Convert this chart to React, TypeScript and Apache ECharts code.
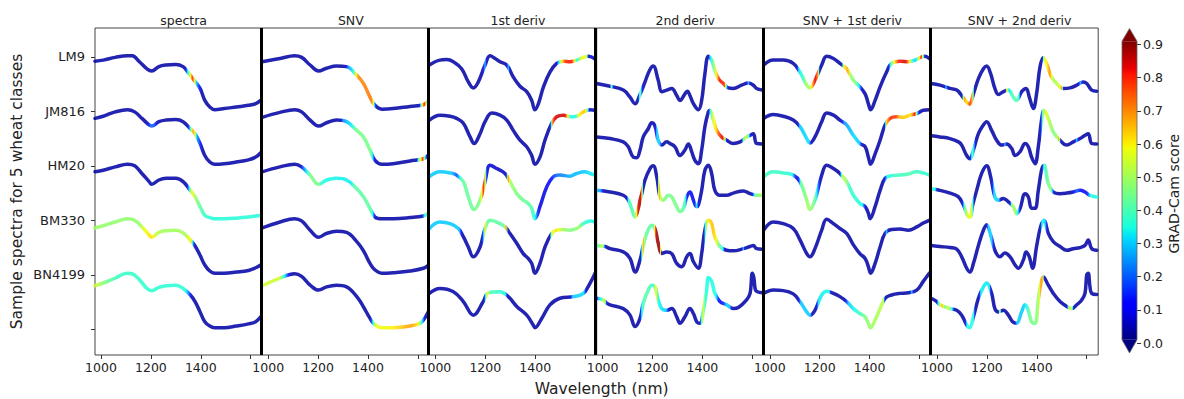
import React, { useEffect, useRef } from "react";
import * as echarts from "echarts";

// ---------- labels ----------
const PANELS = ["spectra", "SNV", "1st deriv", "2nd deriv", "SNV + 1st deriv", "SNV + 2nd deriv"];
const CLASSES = ["LM9", "JM816", "HM20", "BM330", "BN4199"];
const X_TICKS = [1000, 1200, 1400, 1600];
const X_LABELS = [1000, 1200, 1400];
const Y_TICKS = [0, -1, -2, -3, -4, -5];
const Y_LABELS = [0, -1, -2, -3, -4];
const SEPARATOR_WL = 1642;
const CB_MIN = 0.01;
const CB_MAX = 0.91;
const BASE_SCORE = 0.04;

type P = [number, number][];

// ---------- spectra ----------
const spectra_LM9: P = [[976,89],[1009,91],[1057,96],[1106,99],[1125,99],[1154,88],[1184,75],[1203,71],[1232,79],[1261,82],[1300,83],[1329,79],[1348,69],[1368,57],[1397,39],[1416,17],[1436,5],[1455,0],[1494,2],[1542,5],[1591,8],[1620,11],[1640,17]];
const spectra_LM9_s: P = [[1338,0.04],[1348,0.35],[1359,0.6],[1367,0.8],[1375,0.6],[1382,0.3],[1392,0.15],[1402,0.04]];
const spectra_JM816: P = [[976,84],[1009,88],[1057,96],[1106,100],[1135,96],[1164,84],[1193,72],[1203,70],[1232,78],[1261,81],[1300,82],[1329,78],[1358,65],[1377,56],[1397,38],[1416,16],[1436,4],[1455,0],[1494,1],[1542,4],[1591,8],[1620,13],[1640,21]];
const spectra_JM816_s: P = [[1184,0.04],[1198,0.2],[1213,0.2],[1227,0.04],[1348,0.04],[1358,0.35],[1368,0.7],[1375,0.6],[1385,0.25],[1397,0.15],[1406,0.04]];
const spectra_HM20: P = [[976,86],[1009,89],[1057,95],[1106,100],[1135,97],[1164,83],[1193,68],[1203,63],[1232,71],[1261,74],[1300,74],[1329,68],[1358,52],[1377,40],[1397,22],[1416,6],[1436,2],[1455,0],[1494,0],[1542,1],[1591,3],[1620,5],[1640,6]];
const spectra_HM20_s: P = [[1343,0.04],[1353,0.3],[1363,0.6],[1370,0.55],[1387,0.45],[1412,0.38],[1436,0.36],[1640,0.36]];
const spectra_BM330: P = [[976,83],[1009,87],[1057,94],[1106,100],[1135,97],[1164,85],[1193,70],[1203,66],[1232,75],[1261,78],[1300,79],[1329,74],[1358,61],[1377,50],[1397,33],[1416,15],[1436,4],[1455,0],[1494,0],[1542,2],[1591,5],[1620,10],[1640,15]];
const spectra_BM330_s: P = [[976,0.5],[1009,0.48],[1154,0.48],[1174,0.58],[1203,0.62],[1217,0.55],[1242,0.5],[1339,0.5],[1360,0.62],[1368,0.3],[1375,0.04]];
const spectra_BN4199: P = [[976,77],[1009,82],[1057,91],[1106,100],[1125,99],[1154,88],[1184,72],[1203,68],[1232,74],[1261,77],[1300,78],[1329,72],[1358,60],[1377,48],[1397,29],[1416,11],[1436,3],[1455,0],[1494,0],[1542,3],[1591,7],[1620,11],[1640,20]];
const spectra_BN4199_s: P = [[976,0.55],[1019,0.45],[1067,0.38],[1339,0.36],[1353,0.2],[1363,0.04]];

// ---------- SNV ----------
const snv_LM9: P = [[976,88],[1047,94],[1106,99],[1134,96],[1168,82],[1202,71],[1234,76],[1274,80],[1314,79],[1355,63],[1382,48],[1408,23],[1428,8],[1455,1],[1501,2],[1568,6],[1622,9],[1640,16]];
const snv_LM9_s: P = [[1310,0.04],[1321,0.25],[1341,0.35],[1350,0.55],[1360,0.7],[1414,0.72],[1421,0.6],[1426,0.3],[1433,0.04],[1605,0.04],[1615,0.5],[1625,0.85],[1632,0.6],[1640,0.2]];
const snv_JM816: P = [[976,86],[1047,95],[1106,100],[1134,96],[1168,81],[1202,70],[1234,76],[1274,81],[1314,78],[1355,62],[1382,50],[1408,26],[1428,7],[1455,0],[1501,1],[1568,6],[1622,10],[1640,16]];
const snv_JM816_s: P = [[1290,0.04],[1301,0.25],[1340,0.35],[1350,0.45],[1410,0.45],[1419,0.32],[1428,0.04],[1595,0.04],[1602,0.4],[1612,0.6],[1620,0.85],[1627,0.4],[1635,0.1]];
const snv_HM20: P = [[976,86],[1047,95],[1106,100],[1134,95],[1168,80],[1202,63],[1234,71],[1274,74],[1314,71],[1355,55],[1382,40],[1408,19],[1428,3],[1455,0],[1501,0],[1568,2],[1622,5],[1640,9]];
const snv_HM20_s: P = [[1128,0.04],[1140,0.2],[1156,0.35],[1168,0.45],[1205,0.45],[1215,0.35],[1335,0.33],[1345,0.42],[1412,0.42],[1420,0.32],[1428,0.04],[1615,0.04],[1628,0.38],[1640,0.42]];
const snv_BM330: P = [[976,83],[1047,94],[1106,100],[1134,96],[1168,79],[1202,66],[1234,73],[1274,77],[1314,75],[1355,58],[1382,41],[1408,18],[1428,6],[1455,0],[1501,1],[1568,4],[1622,9],[1640,14]];
const snv_BM330_s: P = [];
const snv_BN4199: P = [[976,77],[1047,91],[1106,99],[1134,94],[1168,78],[1202,69],[1234,75],[1274,78],[1314,75],[1355,57],[1382,38],[1408,17],[1428,5],[1455,0],[1501,0],[1568,3],[1608,8],[1622,14],[1640,28]];
const snv_BN4199_s: P = [[976,0.55],[1045,0.55],[1062,0.38],[1076,0.2],[1090,0.04],[1410,0.04],[1418,0.3],[1430,0.58],[1500,0.6],[1550,0.66],[1575,0.68],[1600,0.6],[1610,0.45],[1618,0.3],[1630,0.04]];

// ---------- 1st derivative ----------
const d1_LM9: P = [[976,82],[1018,91],[1045,92],[1072,88],[1105,75],[1132,51],[1152,40],[1172,51],[1199,82],[1219,99],[1239,94],[1259,88],[1286,82],[1312,60],[1339,43],[1366,33],[1386,17],[1399,0],[1413,11],[1433,42],[1459,69],[1486,85],[1513,89],[1539,88],[1566,91],[1593,96],[1613,98],[1640,93]];
const d1_LM9_s: P = [[1191,0.04],[1199,0.3],[1206,0.04],[1285,0.04],[1292,0.3],[1299,0.04],[1485,0.04],[1493,0.3],[1506,0.6],[1522,0.8],[1546,0.82],[1553,0.7],[1566,0.35],[1580,0.5],[1590,0.6],[1606,0.55],[1613,0.06]];
const d1_JM816: P = [[976,81],[1018,90],[1059,88],[1085,84],[1112,75],[1139,50],[1155,38],[1179,56],[1199,78],[1226,94],[1259,90],[1286,81],[1312,62],[1339,44],[1366,32],[1386,16],[1399,0],[1419,13],[1439,44],[1466,75],[1486,87],[1513,90],[1539,87],[1566,88],[1593,96],[1620,100],[1640,99]];
const d1_JM816_s: P = [[1460,0.04],[1470,0.75],[1480,0.85],[1520,0.85],[1530,0.6],[1540,0.35],[1562,0.35],[1575,0.6],[1600,0.65],[1610,0.4],[1618,0.06]];
const d1_HM20: P = [[976,77],[1018,86],[1059,84],[1085,80],[1112,68],[1132,40],[1155,17],[1179,34],[1199,68],[1219,98],[1246,92],[1279,83],[1299,68],[1326,46],[1352,34],[1372,28],[1386,19],[1399,0],[1419,22],[1446,58],[1473,77],[1499,80],[1539,78],[1566,83],[1599,86],[1620,83],[1640,80]];
const d1_HM20_s: P = [[976,0.3],[1065,0.3],[1085,0.18],[1105,0.42],[1175,0.45],[1186,0.58],[1192,0.82],[1199,0.6],[1206,0.08],[1284,0.06],[1291,0.75],[1299,0.5],[1330,0.45],[1380,0.42],[1399,0.35],[1415,0.08],[1460,0.1],[1480,0.2],[1540,0.28],[1600,0.3],[1640,0.35]];
const d1_BM330: P = [[976,82],[1018,94],[1059,91],[1092,82],[1112,67],[1132,48],[1152,30],[1179,48],[1199,82],[1219,97],[1259,91],[1279,85],[1299,73],[1326,55],[1352,36],[1372,27],[1386,18],[1399,0],[1419,18],[1439,48],[1466,73],[1486,79],[1513,80],[1539,79],[1566,82],[1593,91],[1620,96],[1640,94]];
const d1_BM330_s: P = [[976,0.3],[1095,0.3],[1108,0.04],[1186,0.04],[1193,0.3],[1200,0.62],[1208,0.42],[1276,0.42],[1284,0.78],[1290,0.1],[1296,0.04],[1458,0.04],[1466,0.55],[1485,0.62],[1510,0.5],[1550,0.45],[1575,0.5],[1590,0.38],[1640,0.33]];
const d1_BN4199: P = [[976,63],[1018,72],[1072,66],[1112,48],[1152,23],[1192,48],[1212,64],[1259,66],[1292,57],[1326,39],[1366,23],[1392,5],[1399,0],[1426,17],[1459,42],[1499,54],[1553,57],[1593,63],[1620,82],[1640,100]];
const d1_BN4199_s: P = [[1195,0.04],[1202,0.45],[1210,0.62],[1218,0.4],[1280,0.35],[1290,0.04],[1540,0.04],[1550,0.3],[1595,0.32],[1605,0.04]];

// ---------- 2nd derivative ----------
const d2_LM9: P = [[976,48],[1030,43],[1083,36],[1110,23],[1130,11],[1150,28],[1170,51],[1188,72],[1203,80],[1223,54],[1237,33],[1257,36],[1277,39],[1297,26],[1310,17],[1330,29],[1340,34],[1350,26],[1364,11],[1384,0],[1397,17],[1410,66],[1424,98],[1437,91],[1450,72],[1464,57],[1484,48],[1504,40],[1524,39],[1557,45],[1584,49],[1604,45],[1617,39],[1640,36]];
const d2_LM9_s: P = [[1028,0.04],[1036,0.45],[1044,0.04],[1142,0.04],[1150,0.5],[1157,0.2],[1163,0.04],[1424,0.04],[1430,0.3],[1444,0.45],[1457,0.6],[1468,0.82],[1488,0.8],[1497,0.3],[1504,0.04],[1577,0.04],[1584,0.3],[1591,0.04]];
const d2_JM816: P = [[976,50],[1030,47],[1083,41],[1103,32],[1123,13],[1137,12],[1150,26],[1163,50],[1183,65],[1197,76],[1210,70],[1223,44],[1237,35],[1257,41],[1270,38],[1290,32],[1310,16],[1330,26],[1344,37],[1357,23],[1370,7],[1384,1],[1397,26],[1410,69],[1424,96],[1430,99],[1444,81],[1457,62],[1477,50],[1497,44],[1524,38],[1551,41],[1577,50],[1591,53],[1604,56],[1617,38],[1640,37]];
const d2_JM816_s: P = [[1210,0.04],[1217,0.3],[1230,0.3],[1237,0.04],[1424,0.04],[1431,0.35],[1441,0.55],[1455,0.62],[1464,0.75],[1480,0.85],[1490,0.6],[1497,0.04],[1557,0.04],[1564,0.45],[1577,0.55],[1586,0.35],[1594,0.04]];
const d2_HM20: P = [[976,52],[1030,49],[1083,43],[1103,34],[1116,19],[1130,3],[1143,19],[1150,34],[1157,46],[1170,71],[1190,92],[1203,97],[1217,77],[1230,40],[1243,34],[1263,43],[1277,40],[1297,22],[1310,13],[1324,19],[1337,40],[1350,49],[1364,34],[1377,22],[1384,25],[1397,52],[1410,89],[1424,98],[1437,83],[1450,52],[1470,43],[1497,43],[1524,47],[1564,51],[1591,46],[1617,43],[1640,43]];
const d2_HM20_s: P = [[976,0.3],[992,0.25],[1005,0.04],[1096,0.04],[1104,0.38],[1125,0.42],[1135,0.55],[1142,0.85],[1152,0.88],[1158,0.6],[1164,0.04],[1220,0.04],[1226,0.7],[1236,0.5],[1250,0.45],[1310,0.45],[1330,0.4],[1340,0.1],[1368,0.1],[1377,0.35],[1386,0.04],[1598,0.04],[1612,0.45],[1640,0.5]];
const d2_BM330: P = [[976,51],[1010,49],[1030,45],[1083,39],[1110,27],[1130,2],[1150,24],[1163,51],[1177,73],[1197,88],[1210,82],[1223,55],[1237,36],[1257,39],[1277,36],[1297,18],[1317,12],[1337,30],[1350,36],[1364,21],[1384,9],[1397,36],[1410,79],[1424,97],[1437,91],[1450,67],[1470,49],[1497,42],[1524,41],[1564,45],[1591,49],[1604,51],[1617,45],[1640,44]];
const d2_BM330_s: P = [[976,0.35],[990,0.5],[1000,0.55],[1006,0.3],[1012,0.04],[1152,0.04],[1157,0.35],[1163,0.7],[1170,0.42],[1205,0.42],[1214,0.88],[1230,0.9],[1236,0.04],[1405,0.04],[1411,0.35],[1420,0.6],[1440,0.65],[1455,0.6],[1465,0.45],[1482,0.35],[1490,0.04],[1558,0.04],[1564,0.3],[1570,0.04]];
const d2_BN4199: P = [[976,54],[1003,51],[1016,45],[1030,42],[1083,35],[1110,23],[1130,2],[1150,17],[1163,45],[1183,69],[1197,78],[1210,75],[1223,51],[1237,35],[1257,32],[1277,35],[1297,20],[1310,8],[1330,20],[1350,35],[1364,26],[1377,11],[1390,8],[1404,32],[1417,69],[1424,92],[1437,85],[1450,63],[1470,48],[1497,42],[1524,35],[1544,37],[1577,51],[1591,63],[1600,100],[1606,92],[1612,70],[1620,66],[1640,64]];
const d2_BN4199_s: P = [[976,0.04],[984,0.3],[994,0.35],[1008,0.62],[1016,0.1],[1023,0.04],[1150,0.04],[1157,0.35],[1170,0.42],[1205,0.38],[1215,0.65],[1221,0.35],[1255,0.3],[1266,0.04],[1390,0.04],[1397,0.45],[1405,0.55],[1412,0.35],[1455,0.35],[1465,0.1],[1485,0.15],[1495,0.3],[1510,0.3],[1518,0.04]];

// ---------- SNV + 1st derivative ----------
const s1_LM9: P = [[976,82],[1014,91],[1054,91],[1094,85],[1121,69],[1148,45],[1161,40],[1181,54],[1208,82],[1228,98],[1255,94],[1281,85],[1308,75],[1335,54],[1361,42],[1382,29],[1395,11],[1404,0],[1422,17],[1442,42],[1468,69],[1488,85],[1522,89],[1555,88],[1582,91],[1609,97],[1622,98],[1639,94]];
const s1_LM9_s: P = [[1108,0.04],[1116,0.32],[1134,0.38],[1145,0.5],[1160,0.5],[1170,0.65],[1182,0.85],[1193,0.7],[1200,0.04],[1288,0.04],[1296,0.6],[1314,0.68],[1322,0.5],[1345,0.45],[1360,0.3],[1370,0.04],[1475,0.04],[1483,0.35],[1495,0.55],[1515,0.8],[1545,0.85],[1560,0.6],[1572,0.35],[1585,0.3],[1598,0.55],[1607,0.85],[1615,0.4],[1622,0.04]];
const s1_JM816: P = [[976,84],[1014,91],[1054,88],[1094,81],[1121,69],[1148,47],[1161,39],[1181,50],[1208,78],[1228,94],[1255,90],[1281,81],[1308,72],[1335,53],[1361,38],[1382,32],[1395,13],[1404,0],[1422,19],[1442,44],[1462,72],[1482,84],[1508,87],[1535,86],[1562,90],[1589,93],[1615,99],[1639,100]];
const s1_JM816_s: P = [[1112,0.04],[1120,0.3],[1158,0.32],[1166,0.04],[1285,0.04],[1298,0.25],[1340,0.32],[1360,0.3],[1370,0.04],[1460,0.04],[1468,0.65],[1482,0.8],[1505,0.78],[1520,0.65],[1565,0.62],[1575,0.75],[1582,0.85],[1590,0.35],[1600,0.04]];
const s1_HM20: P = [[976,77],[1014,86],[1054,84],[1094,80],[1121,68],[1148,34],[1161,17],[1181,34],[1208,80],[1228,98],[1255,92],[1281,83],[1308,68],[1335,43],[1361,28],[1382,22],[1395,10],[1402,0],[1422,22],[1442,52],[1462,74],[1488,79],[1522,80],[1555,82],[1589,86],[1615,84],[1639,80]];
const s1_HM20_s: P = [[976,0.38],[1050,0.38],[1090,0.35],[1105,0.1],[1115,0.1],[1124,0.42],[1155,0.5],[1178,0.45],[1190,0.3],[1203,0.04],[1280,0.04],[1290,0.52],[1305,0.5],[1318,0.38],[1370,0.35],[1385,0.04],[1458,0.04],[1470,0.35],[1500,0.38],[1560,0.4],[1600,0.38],[1639,0.36]];
const s1_BM330: P = [[976,79],[1014,94],[1054,91],[1094,82],[1121,61],[1148,36],[1161,30],[1181,45],[1208,79],[1228,99],[1255,91],[1281,82],[1308,73],[1335,52],[1361,36],[1382,27],[1395,12],[1404,0],[1422,18],[1442,48],[1462,73],[1488,80],[1522,81],[1555,79],[1589,85],[1615,92],[1639,97]];
const s1_BM330_s: P = [[1460,0.04],[1468,0.3],[1476,0.04]];
const s1_BN4199: P = [[976,63],[1014,69],[1054,68],[1094,62],[1121,48],[1148,29],[1161,23],[1181,32],[1208,60],[1228,67],[1255,63],[1281,57],[1308,48],[1335,35],[1361,26],[1382,20],[1395,8],[1404,0],[1422,14],[1442,35],[1462,54],[1488,60],[1522,63],[1555,64],[1589,69],[1615,85],[1639,100]];
const s1_BN4199_s: P = [[1114,0.04],[1124,0.3],[1162,0.3],[1170,0.04],[1186,0.04],[1195,0.33],[1238,0.35],[1246,0.04],[1300,0.04],[1315,0.3],[1360,0.38],[1390,0.48],[1420,0.5],[1445,0.52],[1455,0.55],[1462,0.04],[1560,0.04],[1569,0.3],[1577,0.04]];

// ---------- SNV + 2nd derivative ----------
const s2_LM9: P = [[976,48],[1012,45],[1052,39],[1079,36],[1099,26],[1119,14],[1130,10],[1146,29],[1166,57],[1186,75],[1199,80],[1215,66],[1232,39],[1246,28],[1266,33],[1286,36],[1306,23],[1319,17],[1339,33],[1357,39],[1370,23],[1386,2],[1399,29],[1413,79],[1426,96],[1439,85],[1459,60],[1480,48],[1506,39],[1533,40],[1560,45],[1586,51],[1600,48],[1620,36],[1640,34]];
const s2_LM9_s: P = [[1030,0.04],[1036,0.3],[1044,0.04],[1100,0.04],[1108,0.7],[1120,0.6],[1132,0.8],[1142,0.65],[1150,0.04],[1274,0.04],[1280,0.7],[1287,0.3],[1300,0.4],[1328,0.4],[1336,0.04],[1422,0.04],[1428,0.55],[1440,0.6],[1452,0.7],[1466,0.5],[1490,0.55],[1500,0.7],[1507,0.04],[1566,0.04],[1575,0.3],[1584,0.04]];
const s2_JM816: P = [[976,52],[1012,50],[1052,47],[1086,41],[1099,35],[1119,16],[1132,10],[1146,26],[1166,56],[1186,72],[1199,78],[1219,62],[1239,44],[1259,35],[1279,37],[1299,29],[1313,16],[1333,23],[1353,38],[1366,32],[1379,13],[1393,1],[1406,32],[1419,81],[1429,99],[1446,84],[1466,59],[1493,44],[1520,35],[1546,41],[1573,47],[1593,53],[1606,56],[1620,38],[1640,37]];
const s2_JM816_s: P = [[1132,0.04],[1140,0.4],[1148,0.3],[1155,0.04],[1265,0.04],[1272,0.3],[1279,0.04],[1415,0.04],[1424,0.45],[1436,0.58],[1450,0.52],[1470,0.45],[1482,0.5],[1488,0.7],[1496,0.04],[1552,0.04],[1560,0.3],[1568,0.04]];
const s2_HM20: P = [[976,55],[1012,52],[1052,47],[1086,40],[1106,25],[1122,6],[1132,3],[1143,25],[1159,52],[1179,83],[1199,97],[1215,77],[1232,40],[1246,34],[1266,37],[1286,31],[1306,22],[1319,9],[1333,19],[1353,46],[1366,40],[1379,19],[1393,19],[1406,52],[1419,89],[1429,98],[1446,65],[1466,49],[1493,46],[1520,47],[1546,49],[1573,52],[1593,49],[1613,43],[1640,40]];
const s2_HM20_s: P = [[976,0.4],[992,0.35],[1002,0.04],[1100,0.04],[1110,0.4],[1125,0.6],[1136,0.58],[1143,0.4],[1150,0.04],[1220,0.04],[1228,0.32],[1248,0.3],[1256,0.04],[1292,0.04],[1300,0.5],[1316,0.48],[1326,0.3],[1334,0.04],[1420,0.04],[1428,0.38],[1442,0.42],[1455,0.5],[1462,0.3],[1470,0.04],[1540,0.04],[1560,0.2],[1580,0.1],[1600,0.1],[1615,0.35],[1640,0.35]];
const s2_BM330: P = [[976,51],[1012,49],[1052,47],[1079,44],[1099,30],[1119,9],[1132,2],[1146,18],[1166,51],[1186,79],[1199,89],[1215,70],[1232,42],[1252,30],[1272,37],[1293,30],[1313,15],[1326,9],[1346,24],[1357,39],[1370,30],[1383,9],[1399,49],[1415,85],[1429,97],[1446,73],[1466,58],[1493,49],[1520,42],[1546,45],[1573,47],[1593,51],[1606,61],[1620,45],[1640,42]];
const s2_BM330_s: P = [[1198,0.04],[1205,0.3],[1220,0.3],[1228,0.04],[1414,0.04],[1420,0.35],[1434,0.3],[1442,0.04]];
const s2_BN4199: P = [[976,54],[999,48],[1012,42],[1052,35],[1079,32],[1099,23],[1119,5],[1130,0],[1146,20],[1166,54],[1186,75],[1199,82],[1219,63],[1232,35],[1246,29],[1266,32],[1286,23],[1303,11],[1319,8],[1339,29],[1353,42],[1366,32],[1379,11],[1393,8],[1406,51],[1415,78],[1426,93],[1446,78],[1466,63],[1493,48],[1520,39],[1540,35],[1560,42],[1580,51],[1593,63],[1600,97],[1606,100],[1613,75],[1620,63],[1640,61]];
const s2_BN4199_s: P = [[976,0.04],[998,0.04],[1005,0.35],[1020,0.68],[1030,0.45],[1045,0.55],[1060,0.35],[1070,0.04],[1112,0.04],[1120,0.35],[1146,0.35],[1154,0.04],[1168,0.04],[1175,0.33],[1210,0.33],[1217,0.04],[1246,0.04],[1252,0.58],[1258,0.04],[1312,0.04],[1320,0.3],[1346,0.3],[1360,0.35],[1372,0.45],[1395,0.45],[1408,0.52],[1416,0.7],[1424,0.65],[1430,0.04],[1520,0.04],[1528,0.5],[1540,0.55],[1548,0.04]];

const CURVES: P[][] = [
  [spectra_LM9, spectra_JM816, spectra_HM20, spectra_BM330, spectra_BN4199],
  [snv_LM9, snv_JM816, snv_HM20, snv_BM330, snv_BN4199],
  [d1_LM9, d1_JM816, d1_HM20, d1_BM330, d1_BN4199],
  [d2_LM9, d2_JM816, d2_HM20, d2_BM330, d2_BN4199],
  [s1_LM9, s1_JM816, s1_HM20, s1_BM330, s1_BN4199],
  [s2_LM9, s2_JM816, s2_HM20, s2_BM330, s2_BN4199],
];
const SCORES: P[][] = [
  [spectra_LM9_s, spectra_JM816_s, spectra_HM20_s, spectra_BM330_s, spectra_BN4199_s],
  [snv_LM9_s, snv_JM816_s, snv_HM20_s, snv_BM330_s, snv_BN4199_s],
  [d1_LM9_s, d1_JM816_s, d1_HM20_s, d1_BM330_s, d1_BN4199_s],
  [d2_LM9_s, d2_JM816_s, d2_HM20_s, d2_BM330_s, d2_BN4199_s],
  [s1_LM9_s, s1_JM816_s, s1_HM20_s, s1_BM330_s, s1_BN4199_s],
  [s2_LM9_s, s2_JM816_s, s2_HM20_s, s2_BM330_s, s2_BN4199_s],
];

// ---------- layout ----------
const PLOT_LEFT = 95;
const PLOT_TOP = 28;
const PLOT_H = 327;
const PANEL_W = 167.2;
const X_MIN = 976;
const X_MAX = 1646;
const Y_MIN = -5.47;
const Y_MAX = 0.53;
const CURVE_SHIFT = 0.969;
const FONT = "DejaVu Sans";
const TEXT = "#222";

// ---------- jet colormap ----------
const JET_R: P = [[0,0],[0.35,0],[0.66,1],[0.89,1],[1,0.5]];
const JET_G: P = [[0,0],[0.125,0],[0.375,1],[0.64,1],[0.91,0],[1,0]];
const JET_B: P = [[0,0.5],[0.11,1],[0.34,1],[0.65,0],[1,0]];
function seg(tbl: P, t: number) {
  for (let i = 1; i < tbl.length; i++) {
    if (t <= tbl[i][0]) {
      const [a, va] = tbl[i - 1];
      const [b, vb] = tbl[i];
      return va + ((vb - va) * (t - a)) / (b - a);
    }
  }
  return tbl[tbl.length - 1][1];
}
function jet(t: number) {
  const u = Math.max(0, Math.min(1, t));
  return `rgb(${Math.round(255 * seg(JET_R, u))},${Math.round(255 * seg(JET_G, u))},${Math.round(255 * seg(JET_B, u))})`;
}
const scoreColor = (s: number) => jet((s - CB_MIN) / (CB_MAX - CB_MIN));

function scoreAt(list: P, w: number) {
  if (!list.length) return BASE_SCORE;
  if (w <= list[0][0]) return list[0][1];
  for (let i = 1; i < list.length; i++) {
    if (w <= list[i][0]) {
      const [a, va] = list[i - 1];
      const [b, vb] = list[i];
      return va + ((vb - va) * (w - a)) / (b - a);
    }
  }
  return list[list.length - 1][1];
}

function curveGradient(curve: P, scores: P) {
  const w0 = curve[0][0];
  const w1 = curve[curve.length - 1][0];
  const stops: { offset: number; color: string }[] = [];
  for (let w = w0; w <= w1 + 1e-6; w += 2) {
    stops.push({ offset: Math.min(1, (w - w0) / (w1 - w0)), color: scoreColor(scoreAt(scores, w)) });
  }
  return new echarts.graphic.LinearGradient(0, 0, 1, 0, stops);
}

function buildOption() {
  const grids: any[] = PANELS.map((_, p) => ({
    left: PLOT_LEFT + p * PANEL_W,
    top: PLOT_TOP,
    width: PANEL_W,
    height: PLOT_H,
    show: true,
    borderColor: "#444",
    borderWidth: 1,
    backgroundColor: "transparent",
  }));
  grids.push({ left: 1122, top: 44.5, width: 15, height: 298.5, show: false });

  const xAxes: any[] = PANELS.map((_, p) => ({
    type: "value",
    gridIndex: p,
    position: "bottom",
    min: X_MIN,
    max: X_MAX,
    axisLine: { show: false, onZero: false },
    splitLine: { show: false },
    axisTick: { show: true, customValues: X_TICKS, length: 4, lineStyle: { color: "#333" } },
    axisLabel: {
      customValues: X_LABELS,
      formatter: (v: number) => String(v),
      fontSize: 12.5,
      color: TEXT,
      margin: 6,
      fontFamily: FONT,
    },
  }));
  xAxes.push({ type: "value", gridIndex: 6, min: 0, max: 1, show: false, axisLine: { onZero: false } });

  const yAxes: any[] = PANELS.map((_, p) => ({
    type: "value",
    gridIndex: p,
    position: "left",
    min: Y_MIN,
    max: Y_MAX,
    axisLine: { show: false, onZero: false },
    splitLine: { show: false },
    axisTick: { show: p === 0, customValues: Y_TICKS, length: 4, lineStyle: { color: "#333" } },
    axisLabel: {
      show: p === 0,
      customValues: Y_LABELS,
      formatter: (v: number) => CLASSES[Math.round(-v)] ?? "",
      fontSize: 13,
      color: TEXT,
      margin: 10,
      fontFamily: FONT,
    },
    name: p === 0 ? "Sample spectra for 5 wheat classes" : "",
    nameLocation: "middle",
    nameGap: 70,
    nameTextStyle: { fontSize: 15.5, color: TEXT, fontFamily: FONT },
  }));
  yAxes.push({
    type: "value",
    gridIndex: 6,
    position: "right",
    min: 0,
    max: 0.9,
    interval: 0.1,
    axisLine: { show: false, onZero: false },
    splitLine: { show: false },
    axisTick: { show: true, length: 4, lineStyle: { color: "#333" } },
    axisLabel: { formatter: (v: number) => v.toFixed(1), fontSize: 12.5, color: TEXT, margin: 6, fontFamily: FONT },
    name: "GRAD-Cam score",
    nameLocation: "middle",
    nameRotate: 90,
    nameGap: 30,
    nameTextStyle: { fontSize: 14, color: TEXT, fontFamily: FONT },
  });

  const series: any[] = [];
  CURVES.forEach((panel, p) => {
    panel.forEach((curve, k) => {
      const s: any = {
        type: "line",
        name: `${PANELS[p]} ${CLASSES[k]}`,
        xAxisIndex: p,
        yAxisIndex: p,
        data: curve.map(([w, v]) => [w, v / 100 - CURVE_SHIFT - k]),
        symbol: "none",
        showSymbol: false,
        smooth: 0.4,
        silent: true,
        clip: false,
        z: 2,
        lineStyle: {
          width: 3.5,
          opacity: 0.86,
          color: curveGradient(curve, SCORES[p][k]),
          cap: "round",
          join: "round",
        },
      };
      if (k === 0 && p < PANELS.length - 1) {
        s.markLine = {
          silent: true,
          symbol: ["none", "none"],
          label: { show: false },
          lineStyle: { color: "#000", width: 3, type: "solid", opacity: 1 },
          data: [{ xAxis: SEPARATOR_WL }],
        };
      }
      series.push(s);
    });
  });

  // colorbar
  const cbStops: { offset: number; color: string }[] = [];
  for (let i = 0; i <= 90; i++) cbStops.push({ offset: i / 90, color: jet(i / 90) });
  series.push({
    type: "custom",
    xAxisIndex: 6,
    yAxisIndex: 6,
    silent: true,
    clip: false,
    data: [[0, 0]],
    renderItem: (_params: any, api: any) => {
      const tl = api.coord([0, CB_MAX]);
      const br = api.coord([1, CB_MIN]);
      const x0 = tl[0], x1 = br[0], yT = tl[1], yB = br[1];
      const xm = (x0 + x1) / 2;
      const tipT = api.coord([0, CB_MAX + 0.038])[1];
      const tipB = api.coord([0, CB_MIN - 0.04])[1];
      return {
        type: "group",
        children: [
          { type: "rect", shape: { x: x0, y: yT, width: x1 - x0, height: yB - yT }, style: { fill: new echarts.graphic.LinearGradient(0, 1, 0, 0, cbStops) } },
          { type: "polygon", shape: { points: [[x0, yT], [x1, yT], [xm, tipT]] }, style: { fill: "rgb(128,0,0)" } },
          { type: "polygon", shape: { points: [[x0, yB], [x1, yB], [xm, tipB]] }, style: { fill: "rgb(0,0,128)" } },
          { type: "polygon", shape: { points: [[x0, yT], [xm, tipT], [x1, yT], [x1, yB], [xm, tipB], [x0, yB]] }, style: { fill: "none", stroke: "#666", lineWidth: 0.8 } },
        ],
      };
    },
  });

  const titles: any[] = PANELS.map((t, p) => ({
    text: t,
    left: PLOT_LEFT + (p + 0.5) * PANEL_W,
    top: 9,
    textAlign: "center",
    textStyle: { fontSize: 12.5, fontWeight: "normal", color: TEXT, fontFamily: FONT },
  }));
  titles.push({
    text: "Wavelength (nm)",
    left: PLOT_LEFT + 3 * PANEL_W,
    top: 376,
    textAlign: "center",
    textStyle: { fontSize: 15.5, fontWeight: "normal", color: TEXT, fontFamily: FONT },
  });

  return {
    animation: false,
    backgroundColor: "#fff",
    textStyle: { fontFamily: FONT },
    title: titles,
    grid: grids,
    xAxis: xAxes,
    yAxis: yAxes,
    series,
  };
}

export default function App() {
  const ref = useRef<HTMLDivElement>(null);
  useEffect(() => {
    const chart = echarts.init(ref.current!, null, { renderer: "svg" });
    chart.setOption(buildOption() as any);
    return () => chart.dispose();
  }, []);
  return (
    <div
      ref={ref}
      style={{ position: "fixed", left: 0, top: 0, width: 1184, height: 399, background: "#fff" }}
    />
  );
}
